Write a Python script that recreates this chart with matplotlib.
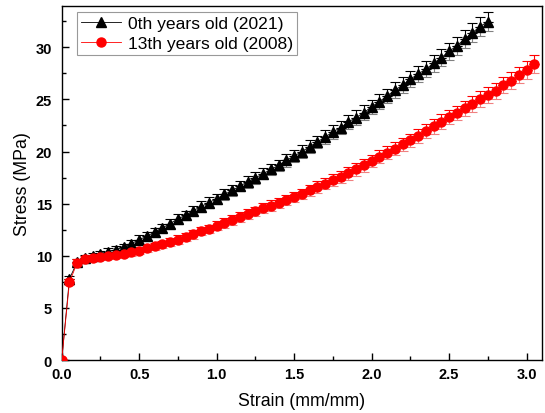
import matplotlib.pyplot as plt
import numpy as np
from matplotlib.ticker import MultipleLocator

plt.rcParams['font.family'] = ['Liberation Sans', 'DejaVu Sans']

# 0th years old (2021)
strain_new = [0.00, 0.05, 0.10, 0.15, 0.20, 0.25, 0.30, 0.35, 0.40, 0.45,
              0.50, 0.55, 0.60, 0.65, 0.70, 0.75, 0.80, 0.85, 0.90, 0.95,
              1.00, 1.05, 1.10, 1.15, 1.20, 1.25, 1.30, 1.35, 1.40, 1.45,
              1.50, 1.55, 1.60, 1.65, 1.70, 1.75, 1.80, 1.85, 1.90, 1.95,
              2.00, 2.05, 2.10, 2.15, 2.20, 2.25, 2.30, 2.35, 2.40, 2.45,
              2.50, 2.55, 2.60, 2.65, 2.70, 2.75]
stress_new = [0.0, 7.8, 9.4, 9.8, 10.0, 10.15, 10.4, 10.6, 10.8, 11.16,
              11.55, 11.87, 12.29, 12.67, 13.09, 13.54, 13.89, 14.34, 14.72, 15.1,
              15.47, 15.88, 16.27, 16.68, 17.1, 17.48, 17.87, 18.29, 18.67, 19.15,
              19.57, 19.99, 20.47, 20.92, 21.4, 21.88, 22.3, 22.84, 23.26, 23.74,
              24.29, 24.79, 25.34, 25.89, 26.37, 26.95, 27.43, 27.91, 28.46, 29.0,
              29.61, 30.15, 30.8, 31.4, 31.99, 32.47]
err_new = [0.0, 0.3, 0.3, 0.3, 0.3, 0.3, 0.3, 0.35, 0.35, 0.35,
           0.4, 0.4, 0.4, 0.4, 0.45, 0.45, 0.45, 0.45, 0.5, 0.5,
           0.5, 0.5, 0.5, 0.5, 0.55, 0.55, 0.55, 0.55, 0.55, 0.6,
           0.6, 0.6, 0.6, 0.6, 0.65, 0.65, 0.65, 0.65, 0.7, 0.7,
           0.7, 0.7, 0.7, 0.75, 0.75, 0.75, 0.75, 0.8, 0.8, 0.8,
           0.85, 0.85, 0.85, 0.9, 0.9, 0.95]

# 13th years old (2008)
strain_old = [0.00, 0.05, 0.10, 0.15, 0.20, 0.25, 0.30, 0.35, 0.40, 0.45,
              0.50, 0.55, 0.60, 0.65, 0.70, 0.75, 0.80, 0.85, 0.90, 0.95,
              1.00, 1.05, 1.10, 1.15, 1.20, 1.25, 1.30, 1.35, 1.40, 1.45,
              1.50, 1.55, 1.60, 1.65, 1.70, 1.75, 1.80, 1.85, 1.90, 1.95,
              2.00, 2.05, 2.10, 2.15, 2.20, 2.25, 2.30, 2.35, 2.40, 2.45,
              2.50, 2.55, 2.60, 2.65, 2.70, 2.75, 2.80, 2.85, 2.90, 2.95,
              3.00, 3.05]
stress_old = [0.0, 7.45, 9.35, 9.65, 9.8, 9.9, 10.0, 10.1, 10.2, 10.35,
              10.5, 10.7, 10.9, 11.1, 11.3, 11.55, 11.8, 12.05, 12.35, 12.6,
              12.9, 13.15, 13.45, 13.73, 14.0, 14.27, 14.56, 14.82, 15.08, 15.37,
              15.62, 15.95, 16.27, 16.58, 16.91, 17.26, 17.58, 17.9, 18.29, 18.67,
              19.09, 19.51, 19.89, 20.28, 20.69, 21.08, 21.5, 21.98, 22.43, 22.87,
              23.32, 23.68, 24.13, 24.54, 25.02, 25.41, 25.82, 26.37, 26.79, 27.33,
              27.85, 28.39]
err_old = [0.0, 0.3, 0.3, 0.3, 0.3, 0.3, 0.3, 0.3, 0.3, 0.35,
           0.35, 0.35, 0.35, 0.35, 0.4, 0.4, 0.4, 0.4, 0.4, 0.4,
           0.45, 0.45, 0.45, 0.45, 0.45, 0.45, 0.5, 0.5, 0.5, 0.5,
           0.5, 0.5, 0.55, 0.55, 0.55, 0.55, 0.55, 0.6, 0.6, 0.6,
           0.6, 0.6, 0.65, 0.65, 0.65, 0.65, 0.65, 0.7, 0.7, 0.7,
           0.7, 0.7, 0.75, 0.75, 0.75, 0.75, 0.8, 0.8, 0.8, 0.8,
           0.85, 0.85]

fig = plt.figure(figsize=(5.45, 4.14), dpi=100)
ax = fig.add_axes([0.1132, 0.128, 0.8813, 0.856])

zero_new = np.zeros(len(err_new))
zero_old = np.zeros(len(err_old))

# lower half of the bars is drawn lighter, upper half full colour
ax.errorbar(strain_new, stress_new, yerr=[err_new, zero_new], fmt='none',
            ecolor='#808080', elinewidth=0.8, capsize=3.5, capthick=0.8, zorder=2)
ax.errorbar(strain_new, stress_new, yerr=[zero_new, err_new], fmt='none',
            ecolor='black', elinewidth=0.8, capsize=3.5, capthick=0.8, zorder=2)
ax.errorbar(strain_old, stress_old, yerr=[err_old, zero_old], fmt='none',
            ecolor='#f08080', elinewidth=0.8, capsize=3.5, capthick=0.8, zorder=2)
ax.errorbar(strain_old, stress_old, yerr=[zero_old, err_old], fmt='none',
            ecolor='red', elinewidth=0.8, capsize=3.5, capthick=0.8, zorder=2)

ax.plot(strain_new, stress_new, color='black', lw=0.6, marker='^', ms=7,
        mec='black', mfc='black', label='0th years old (2021)', zorder=3)
ax.plot(strain_old, stress_old, color='red', lw=0.6, marker='o', ms=6.5,
        mec='red', mfc='red', label='13th years old (2008)', zorder=3)

ax.set_xlim(0, 3.1)
ax.set_ylim(0, 34)
ax.xaxis.set_major_locator(MultipleLocator(0.5))
ax.xaxis.set_minor_locator(MultipleLocator(0.25))
ax.yaxis.set_major_locator(MultipleLocator(5))
ax.yaxis.set_minor_locator(MultipleLocator(2.5))
ax.tick_params(which='both', direction='in', top=False, right=False, width=1)
ax.tick_params(which='major', length=5, labelsize=10.5)
ax.tick_params(which='minor', length=3)
ax.tick_params(axis='x', which='major', pad=5)
ax.tick_params(axis='y', which='major', pad=7)
for lab in ax.get_xticklabels() + ax.get_yticklabels():
    lab.set_fontweight('bold')
for s in ax.spines.values():
    s.set_linewidth(1)

ax.set_xlabel('Strain (mm/mm)', fontsize=12.8, labelpad=8)
ax.set_ylabel('Stress (MPa)', fontsize=12.8, labelpad=3)

leg = ax.legend(loc='upper left', bbox_to_anchor=(0.032, 0.982), borderaxespad=0,
                fontsize=12.6, frameon=True, fancybox=False, edgecolor='#808080',
                handlelength=2.3, borderpad=0.2, labelspacing=0.3,
                handletextpad=0.4)
leg.get_frame().set_linewidth(0.8)

fig.savefig('out.png', dpi=100)
